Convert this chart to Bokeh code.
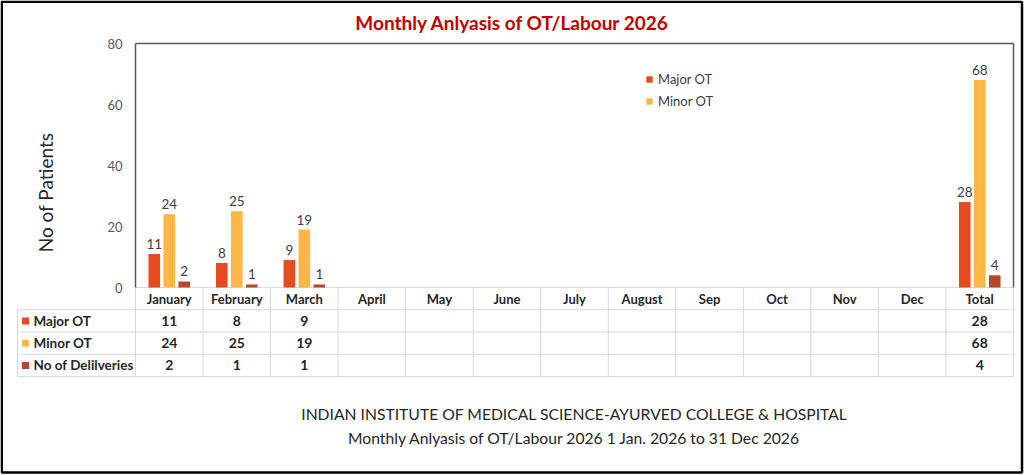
import numpy as np
from bokeh.plotting import figure
from bokeh.models import Range1d, Legend, LegendItem, ColumnDataSource
from bokeh.embed import file_html
from bokeh.resources import INLINE
from bokeh.core.properties import value

# ---------------- data ----------------
categories = ["January", "February", "March", "April", "May", "June", "July",
              "August", "Sep", "Oct", "Nov", "Dec", "Total"]
major_ot = [11, 8, 9, None, None, None, None, None, None, None, None, None, 28]
minor_ot = [24, 25, 19, None, None, None, None, None, None, None, None, None, 68]
deliveries = [2, 1, 1, None, None, None, None, None, None, None, None, None, 4]
series_names = ["Major OT", "Minor OT", "No of Delilveries"]
y_ticks = [0, 20, 40, 60, 80]
title_text = "Monthly Anlyasis of OT/Labour 2026"
y_title = "No of Patients"
footer_lines = ["INDIAN INSTITUTE OF MEDICAL SCIENCE-AYURVED COLLEGE & HOSPITAL",
                "Monthly Anlyasis of OT/Labour 2026 1 Jan. 2026 to 31 Dec 2026"]

# ---------------- style / layout (pixels) ----------------
COLORS = ["#E64B1F", "#FDB744", "#B5472A"]
OFFSETS = [-0.222, 0.0, 0.222]
BAR_W = 0.172
FONT = "Lato"
TXT = "#262626"
GRID = "#D9D9D9"
FRAME_C = "#595959"

W, H = 1024, 475
FL, FR, FT, FB = 135, 1013, 43, 287     # plot area in page pixels
TL = 17                                  # table left edge
RH = 22.25                               # table row height
YMAX = 80
n = len(categories)
PX = (FR - FL) / n
PY = (FB - FT) / YMAX


def X(px):
    return -0.5 + (px - FL) / PX


def Y(py):
    return (FB - py) / PY


def TY(r):
    return Y(FB + r * RH)


series = [major_ot, minor_ot, deliveries]

p = figure(width=W, height=H, output_backend="svg", toolbar_location=None,
           x_range=Range1d(X(0), X(W)), y_range=Range1d(Y(H), Y(0)),
           x_axis_location=None, y_axis_location=None,
           min_border_left=0, min_border_right=0, min_border_top=0, min_border_bottom=0,
           outline_line_color=None, background_fill_color="white",
           border_fill_color="white")
p.grid.visible = False

# outer black border
p.quad(left=[X(1.25)], right=[X(1021.5)], top=[Y(1.25)], bottom=[Y(472)],
       fill_color=None, line_color="black", line_width=2.5)

# ---------------- data table grid ----------------
x0, y0, x1, y1 = [], [], [], []
x0.append(-0.5); x1.append(n - 0.5); y0.append(TY(0)); y1.append(TY(0))
for r in range(1, 5):
    x0.append(X(TL)); x1.append(n - 0.5); y0.append(TY(r)); y1.append(TY(r))
for k in range(n + 1):
    x0.append(k - 0.5); x1.append(k - 0.5); y0.append(TY(0)); y1.append(TY(4))
x0.append(X(TL)); x1.append(X(TL)); y0.append(TY(1)); y1.append(TY(4))
p.segment(x0=x0, y0=y0, x1=x1, y1=y1, line_color=GRID, line_width=1)

# plot-area frame (top, left, right)
p.segment(x0=[-0.5, -0.5, n - 0.5], y0=[YMAX, 0, 0],
          x1=[n - 0.5, -0.5, n - 0.5], y1=[YMAX, YMAX, YMAX],
          line_color=FRAME_C, line_width=1.5)

# y tick labels (placed by the value scale)
p.text(x=[-0.5] * len(y_ticks), y=y_ticks, text=[str(v) for v in y_ticks],
       x_offset=-13, text_align="right", text_baseline="middle",
       text_font=value(FONT), text_font_size="13px", text_color=FRAME_C)

# titles
p.text(x=[X(512)], y=[Y(22)], text=[title_text], text_align="center",
       text_baseline="middle", text_font=value(FONT), text_font_size="19px",
       text_font_style="bold", text_color="#C00000")
p.text(x=[X(45)], y=[Y(192)], text=[y_title], angle=np.pi / 2,
       text_align="center", text_baseline="middle", text_font=value(FONT),
       text_font_size="19px", text_color=TXT)

# ---------------- bars ----------------
renderers = []
for s, (vals, col, off) in enumerate(zip(series, COLORS, OFFSETS)):
    idx = [i for i, v in enumerate(vals) if v is not None]
    src = ColumnDataSource(dict(
        x=np.array(idx, dtype=float) + off,
        top=[vals[i] for i in idx],
        lab=[str(vals[i]) for i in idx]))
    r = p.vbar(x="x", top="top", width=BAR_W, bottom=0, source=src,
               fill_color=col, line_color=None)
    renderers.append(r)
    p.text(x="x", y="top", text="lab", source=src, text_align="center",
           text_baseline="bottom", y_offset=-5, text_font=value(FONT),
           text_font_size="13.5px", text_color="#404040")

legend = Legend(items=[LegendItem(label=series_names[0], renderers=[renderers[0]]),
                       LegendItem(label=series_names[1], renderers=[renderers[1]])],
                location=(645, H - 112), orientation="vertical",
                glyph_width=8, glyph_height=8, label_standoff=5,
                label_height=22, spacing=0, padding=0, margin=0,
                border_line_color=None, background_fill_alpha=0,
                label_text_font=FONT, label_text_font_size="13px",
                label_text_color="#404040")
p.add_layout(legend)

# ---------------- data table texts ----------------
p.text(x=list(range(n)), y=[(TY(0) + TY(1)) / 2] * n, text=categories,
       text_align="center", text_baseline="middle", text_font=value(FONT),
       text_font_size="13px", text_font_style="bold", text_color=TXT)

row_y = [(TY(r + 1) + TY(r + 2)) / 2 for r in range(3)]
p.scatter(x=[X(TL + 8)] * 3, y=row_y, marker="square", size=7,
          fill_color=COLORS, line_color=None)
p.text(x=[X(TL)] * 3, y=row_y, text=series_names, x_offset=16,
       text_align="left", text_baseline="middle", text_font=value(FONT),
       text_font_size="13.5px", text_font_style="bold", text_color=TXT)

for r, vals in enumerate(series):
    idx = [i for i, v in enumerate(vals) if v is not None]
    p.text(x=idx, y=[row_y[r]] * len(idx), text=[str(vals[i]) for i in idx],
           text_align="center", text_baseline="middle", text_font=value(FONT),
           text_font_size="14px", text_font_style="bold", text_color=TXT)

# ---------------- footer ----------------
p.text(x=[(n - 1) / 2] * 2, y=[Y(413), Y(437)], text=footer_lines,
       text_align="center", text_baseline="middle", text_font=value(FONT),
       text_font_size="15.7px", text_color=TXT)

open("out.html", "w").write(file_html(p, INLINE))
